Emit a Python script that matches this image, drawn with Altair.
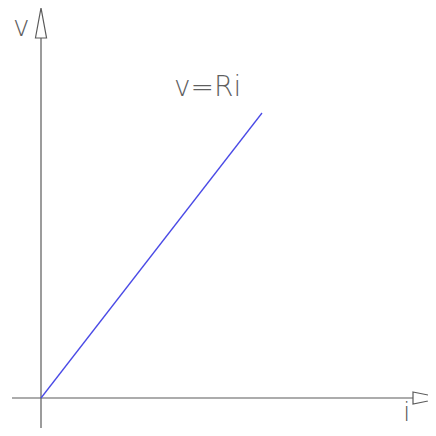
import altair as alt
import pandas as pd

# data (units: drawing units, origin at i=0, v=0)
line_i = [0, 221]
line_v = [0, 285]

axis_x_i = [-29, 372]   # horizontal axis extent
axis_y_v = [-45, 360]   # vertical axis extent

label_text = ["v=Ri", "v", "i"]
label_i = [133, -28, 362]
label_v = [302, 362, -23]
label_size = [28, 28, 27]

X = alt.Scale(domain=[-33, 387], nice=False, zero=False)
Y = alt.Scale(domain=[-30, 390], nice=False, zero=False)
GRAY = "#5a5a5a"

line_df = pd.DataFrame({"i": line_i, "v": line_v})
xaxis_df = pd.DataFrame({"i": [axis_x_i[0]], "i2": [axis_x_i[1]], "v": [0]})
yaxis_df = pd.DataFrame({"i": [0], "v": [axis_y_v[0]], "v2": [axis_y_v[1]]})
labels_df = pd.DataFrame({"i": label_i, "v": label_v, "t": label_text, "s": label_size})
arrows_df = pd.DataFrame({"i": [0, axis_x_i[1]], "v": [axis_y_v[1], 0], "dir": ["up", "right"]})

xr = alt.Chart(xaxis_df).mark_rule(color=GRAY, strokeWidth=1.2).encode(
    x=alt.X("i:Q", scale=X, axis=None), x2="i2:Q", y=alt.Y("v:Q", scale=Y, axis=None))
yr = alt.Chart(yaxis_df).mark_rule(color=GRAY, strokeWidth=1.2).encode(
    x=alt.X("i:Q", scale=X, axis=None), y=alt.Y("v:Q", scale=Y, axis=None), y2="v2:Q")

up = alt.Chart(arrows_df).transform_filter("datum.dir == 'up'").mark_point(
    shape="M-0.37,0 L0,-2 L0.37,0 Z", filled=False, color=GRAY, strokeWidth=1.2,
    size=900, opacity=1).encode(
    x=alt.X("i:Q", scale=X, axis=None), y=alt.Y("v:Q", scale=Y, axis=None))
right = alt.Chart(arrows_df).transform_filter("datum.dir == 'right'").mark_point(
    shape="M0,-0.4 L2,0 L0,0.4 Z", filled=False, color=GRAY, strokeWidth=1.2,
    size=900, opacity=1).encode(
    x=alt.X("i:Q", scale=X, axis=None), y=alt.Y("v:Q", scale=Y, axis=None))

ln = alt.Chart(line_df).mark_line(color="#4a4ae6", strokeWidth=1.3).encode(
    x=alt.X("i:Q", scale=X, axis=None), y=alt.Y("v:Q", scale=Y, axis=None))

txt = alt.Chart(labels_df).mark_text(
    align="left", baseline="alphabetic", font="DejaVu Sans", fontWeight=200,
    color="#5f5f5f").encode(
    x=alt.X("i:Q", scale=X, axis=None), y=alt.Y("v:Q", scale=Y, axis=None),
    text="t:N", size=alt.Size("s:Q", scale=None, legend=None))

chart = alt.layer(xr, yr, up, right, ln, txt).properties(
    width=420, height=420, padding=0, autosize=alt.AutoSizeParams(type="none"),
    background="white"
).configure_view(stroke=None, clip=False)

chart.save("out.html", embed_options={"renderer": "svg", "actions": False})
